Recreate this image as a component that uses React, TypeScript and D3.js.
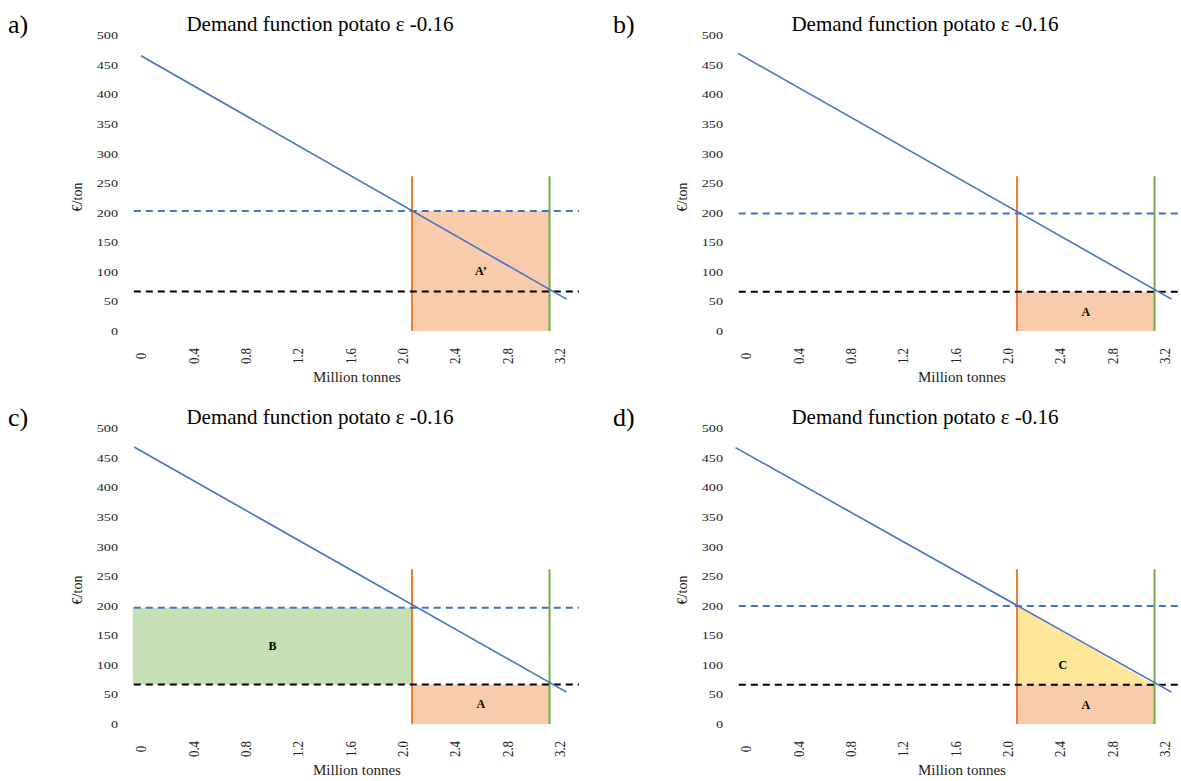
import React from 'react';
import * as d3 from 'd3';

// ---------- data ----------
const panelIds = ['a)', 'b)', 'c)', 'd)'];
const panelDx = [0, 605, 0, 605];
const panelDy = [0, 0, 393, 393];
const titleText = 'Demand function potato \u03b5 -0.16';
const xAxisTitle = 'Million tonnes';
const yAxisTitle = '\u20ac/ton';

const yTicks = [0, 50, 100, 150, 200, 250, 300, 350, 400, 450, 500];
const xTicks = [0, 0.4, 0.8, 1.2, 1.6, 2.0, 2.4, 2.8, 3.2];
const xTickLabels = ['0', '0.4', '0.8', '1.2', '1.6', '2.0', '2.4', '2.8', '3.2'];

// demand line (per panel start, common end)
const demandStartQ = [0, -0.06, -0.053, -0.08];
const demandStartP = [466, 470, 469, 468];
const demandEndQ = 3.25;
const demandEndP = 54;

// horizontal dashed price lines
const priceHigh = [203, 199, 197, 200]; // blue dashed
const priceLow = [67, 66.5, 67, 66.4]; // black dashed
const dashQMin = -0.055;
const dashQMax = 3.345;

// vertical quantity lines
const qOrange = 2.07;
const qGreen = 3.12;
const vLineTop = 262;
const bAreaStartQ = -0.063;

// shaded areas
const areaPanels = [0, 1, 2, 2, 3, 3];
const areaLabels = ['A\u2019', 'A', 'B', 'A', 'C', 'A'];
const areaKinds = ['orangeHigh', 'orangeLow', 'greenB', 'orangeLow', 'yellowC', 'orangeLow'];

const COLORS = {
  blue: '#4472C4',
  orange: '#ED7D31',
  green: '#70AD47',
  fillOrange: '#F8CBAD',
  fillGreen: '#C5E0B4',
  fillYellow: '#FFE699',
};

const FONT = '"Liberation Serif", "Times New Roman", serif';

const x = d3.scaleLinear().domain([0, 3.2]).range([141, 560]);
const y = d3.scaleLinear().domain([0, 500]).range([331, 35.7]);

function areaPolygon(kind: string, p: number): [number, number][] {
  if (kind === 'orangeHigh')
    return [[qOrange, 0], [qGreen, 0], [qGreen, priceHigh[p]], [qOrange, priceHigh[p]]];
  if (kind === 'orangeLow')
    return [[qOrange, 0], [qGreen, 0], [qGreen, priceLow[p]], [qOrange, priceLow[p]]];
  if (kind === 'greenB')
    return [[bAreaStartQ, priceLow[p]], [qOrange, priceLow[p]], [qOrange, priceHigh[p]], [bAreaStartQ, priceHigh[p]]];
  return [[qOrange, priceHigh[p]], [qGreen, priceLow[p]], [qOrange, priceLow[p]]];
}

function areaFill(kind: string) {
  if (kind === 'greenB') return COLORS.fillGreen;
  if (kind === 'yellowC') return COLORS.fillYellow;
  return COLORS.fillOrange;
}

function labelPos(kind: string, p: number): [number, number] {
  if (kind === 'orangeHigh') return [(qOrange + qGreen) / 2, priceHigh[p] / 2];
  if (kind === 'orangeLow') return [(qOrange + qGreen) / 2, priceLow[p] / 2];
  if (kind === 'greenB') return [(bAreaStartQ + qOrange) / 2, (priceLow[p] + priceHigh[p]) / 2];
  return [(2 * qOrange + qGreen) / 3, priceLow[p] + (priceHigh[p] - priceLow[p]) * 0.25];
}

const line = d3.line<[number, number]>().x((d) => x(d[0])).y((d) => y(d[1]));

function Panel({ p }: { p: number }) {
  const areas = areaPanels
    .map((ap, i) => ({ ap, i }))
    .filter((d) => d.ap === p);
  return (
    <g transform={`translate(${panelDx[p]},${panelDy[p]})`}>
      <text x={8} y={33} fontFamily={FONT} fontSize={26} fill="#000">
        {panelIds[p]}
      </text>
      <text x={320} y={31} fontFamily={FONT} fontSize={21} textAnchor="middle" fill="#000">
        {titleText}
      </text>
      {/* y tick labels */}
      {yTicks.map((t) => (
        <text
          key={t}
          transform={`translate(118,${y(t)}) scale(1.35,1)`}
          dy="0.35em"
          fontFamily={FONT}
          fontSize={10.5}
          textAnchor="end"
          fill="#222"
        >
          {t}
        </text>
      ))}
      {/* x tick labels */}
      {xTicks.map((t, i) => (
        <text
          key={t}
          transform={`translate(${x(t)},${356}) scale(1.15,1) rotate(-90)`}
          dy="0.35em"
          fontFamily={FONT}
          fontSize={13}
          textAnchor="middle"
          fill="#222"
        >
          {xTickLabels[i]}
        </text>
      ))}
      <text x={357} y={382} fontFamily={FONT} fontSize={15} textAnchor="middle" fill="#222">
        {xAxisTitle}
      </text>
      <text
        transform={`translate(${77},${197}) rotate(-90)`}
        dy="0.35em"
        fontFamily={FONT}
        fontSize={14}
        textAnchor="middle"
        fill="#222"
      >
        {yAxisTitle}
      </text>
      {/* shaded areas */}
      {areas.map(({ i }) => (
        <path
          key={'a' + i}
          d={line(areaPolygon(areaKinds[i], p))! + 'Z'}
          fill={areaFill(areaKinds[i])}
          stroke="none"
        />
      ))}
      {/* vertical lines */}
      <path d={line([[qOrange, 0], [qOrange, vLineTop]])!} stroke={COLORS.orange} strokeWidth={2} fill="none" />
      <path d={line([[qGreen, 0], [qGreen, vLineTop]])!} stroke={COLORS.green} strokeWidth={2} fill="none" />
      {/* dashed price lines */}
      <path
        d={line([[dashQMin, priceHigh[p]], [dashQMax, priceHigh[p]]])!}
        stroke={COLORS.blue}
        strokeWidth={2}
        strokeDasharray="7,5"
        fill="none"
      />
      <path
        d={line([[dashQMin, priceLow[p]], [dashQMax, priceLow[p]]])!}
        stroke="#000"
        strokeWidth={2}
        strokeDasharray="7,5"
        fill="none"
      />
      {/* demand line */}
      <path
        d={line([[demandStartQ[p], demandStartP[p]], [demandEndQ, demandEndP]])!}
        stroke={COLORS.blue}
        strokeWidth={1.6}
        fill="none"
      />
      {/* area labels */}
      {areas.map(({ i }) => {
        const [lq, lp] = labelPos(areaKinds[i], p);
        return (
          <text
            key={'l' + i}
            x={x(lq)}
            y={y(lp)}
            dy="0.35em"
            fontFamily={FONT}
            fontSize={12}
            fontWeight="bold"
            textAnchor="middle"
            fill="#000"
          >
            {areaLabels[i]}
          </text>
        );
      })}
    </g>
  );
}

export default function App() {
  return (
    <svg
      width={1181}
      height={781}
      viewBox="0 0 1181 781"
      style={{ position: 'absolute', left: 0, top: 0, background: '#fff' }}
    >
      <rect x={0} y={0} width={1181} height={781} fill="#fff" />
      {[0, 1, 2, 3].map((p) => (
        <Panel key={p} p={p} />
      ))}
    </svg>
  );
}
